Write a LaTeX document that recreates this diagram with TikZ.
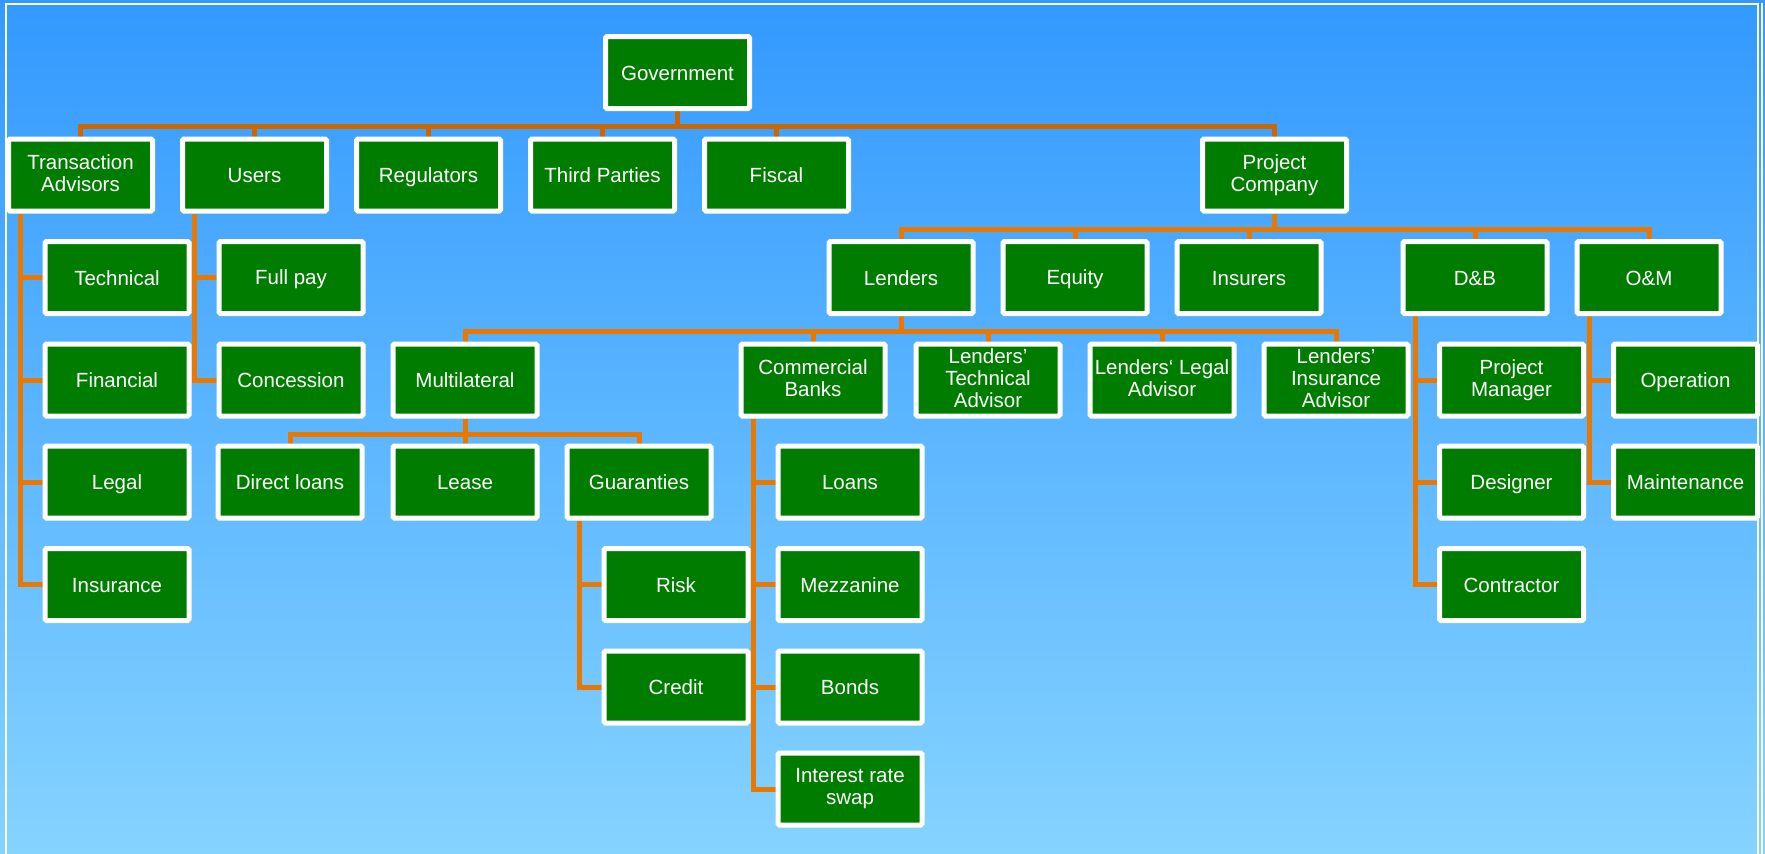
\documentclass[tikz,border=0pt]{standalone}
\usepackage{fontspec}
\setmainfont{Liberation Sans}
\usetikzlibrary{calc}
\pgfdeclarelayer{back}
\pgfsetlayers{back,main}
\definecolor{sky}{RGB}{51,153,255}
\definecolor{skylow}{RGB}{133,211,255}
\definecolor{leaf}{RGB}{0,125,0}
\definecolor{wire}{RGB}{232,120,0}
\definecolor{wiretop}{RGB}{204,102,0}
\newcommand\orgstrut{\rule[-3.1pt]{0pt}{22pt}}

\begin{document}
\begin{tikzpicture}[x=1pt, y=-1pt,
    unit/.style={draw=white, line width=5pt, fill=leaf, text=white,
      rounded corners=1.5pt, minimum width=144pt, minimum height=72pt,
      inner sep=0pt, align=center, font=\fontsize{20.5}{22}\selectfont,
      execute at begin node=\orgstrut, execute at end node=\orgstrut},
    link/.style={draw=wire, line width=5pt}]
  \useasboundingbox (0,0) rectangle (1765,854);

  % top
  \node[unit] (gov) at (677.5,72.5) {Government};
  % row 1
  \node[unit] (ta)     at (80.5,175)  {Transaction\\Advisors};
  \node[unit] (users)  at (254.5,175) {Users};
  \node[unit] (reg)    at (428.5,175) {Regulators};
  \node[unit] (third)  at (602.5,175) {Third Parties};
  \node[unit] (fiscal) at (776.5,175) {Fiscal};
  \node[unit] (pc)     at (1274.5,175) {Project\\Company};
  % row 2
  \node[unit] (tech)     at (117,277.5)  {Technical};
  \node[unit] (fullpay)  at (291,277.5)  {Full pay};
  \node[unit] (lenders)  at (901,277.5)  {Lenders};
  \node[unit] (equity)   at (1075,277.5) {Equity};
  \node[unit] (insurers) at (1249,277.5) {Insurers};
  \node[unit] (db)       at (1475,277.5) {D\&B};
  \node[unit] (om)       at (1649,277.5) {O\&M};
  % row 3
  \node[unit] (fin)   at (117,380)    {Financial};
  \node[unit] (conc)  at (291,380)    {Concession};
  \node[unit] (multi) at (465,380)    {Multilateral};
  \node[unit] (cb)    at (813,380)    {Commercial\\Banks};
  \node[unit] (lta)   at (988,380)    {Lenders’\\Technical\\Advisor};
  \node[unit] (lla)   at (1162,380)   {Lenders‘ Legal\\Advisor};
  \node[unit] (lia)   at (1336,380)   {Lenders’\\Insurance\\Advisor};
  \node[unit] (pm)    at (1511.5,380) {Project\\Manager};
  \node[unit] (oper)  at (1685.5,380) {Operation};
  % row 4
  \node[unit] (legal)    at (117,482)    {Legal};
  \node[unit] (dl)       at (290,482)    {Direct loans};
  \node[unit] (lease)    at (465,482)    {Lease};
  \node[unit] (guar)     at (639,482)    {Guaranties};
  \node[unit] (loans)    at (850,482)    {Loans};
  \node[unit] (designer) at (1511.5,482) {Designer};
  \node[unit] (maint)    at (1685.5,482) {Maintenance};
  % rows 5 to 7
  \node[unit] (ins)        at (117,584.5)    {Insurance};
  \node[unit] (risk)       at (676,584.5)    {Risk};
  \node[unit] (mezz)       at (850,584.5)    {Mezzanine};
  \node[unit] (contractor) at (1511.5,584.5) {Contractor};
  \node[unit] (credit)     at (676,687)      {Credit};
  \node[unit] (bonds)      at (850,687)      {Bonds};
  \node[unit] (irs)        at (850,789)      {Interest rate\\swap};

  \draw[white, line width=1.5pt] (6,4) rectangle (1758,858);
  \draw[white, line width=1.5pt] (1762,3) -- (1762,858);

  \begin{pgfonlayer}{back}
    \shade[top color=sky, bottom color=skylow] (0,0) rectangle (1765,854);
    % buses
    \foreach \k in {ta,users,reg,third,fiscal,pc}
      \draw[link, draw=wiretop] (gov.south) -- ++(0,15.5) -| (\k.north);
    \foreach \k in {lenders,equity,insurers,db,om}
      \draw[link] (pc.south) -- ++(0,15.5) -| (\k.north);
    \foreach \k in {multi,cb,lta,lla,lia}
      \draw[link] (lenders.south) -- ++(0,15.5) -| (\k.north);
    \foreach \k in {dl,lease,guar}
      \draw[link] (multi.south) -- ++(0,15.5) -| (\k.north);
    % spines
    \foreach \k in {tech,fin,legal,ins}
      \draw[link] ($(ta.south west)+(14.5,0)$) |- (\k.west);
    \foreach \k in {fullpay,conc}
      \draw[link] ($(users.south west)+(14.5,0)$) |- (\k.west);
    \foreach \k in {risk,credit}
      \draw[link] ($(guar.south west)+(14.5,0)$) |- (\k.west);
    \foreach \k in {loans,mezz,bonds,irs}
      \draw[link] ($(cb.south west)+(14.5,0)$) |- (\k.west);
    \foreach \k in {pm,designer,contractor}
      \draw[link] ($(db.south west)+(14.5,0)$) |- (\k.west);
    \foreach \k in {oper,maint}
      \draw[link] ($(om.south west)+(14.5,0)$) |- (\k.west);
  \end{pgfonlayer}
\end{tikzpicture}
\end{document}
